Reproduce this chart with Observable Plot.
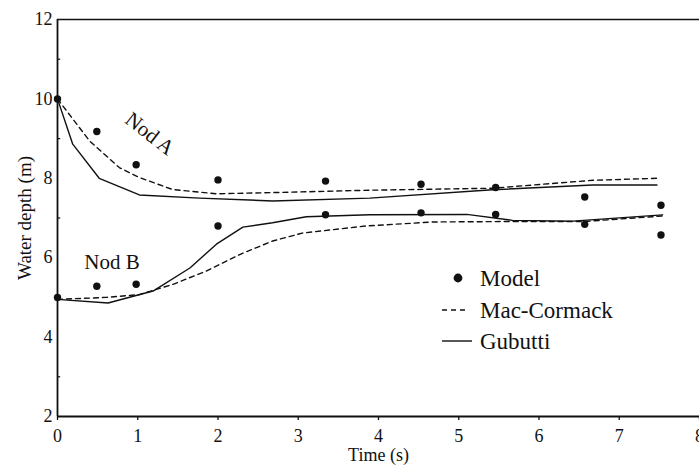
<!DOCTYPE html>
<html>
<head>
<meta charset="utf-8">
<script src="https://cdn.jsdelivr.net/npm/d3@7"></script>
<script src="https://cdn.jsdelivr.net/npm/@observablehq/plot@0.6"></script>
<style>
  html, body { margin: 0; padding: 0; background: #fff; overflow: hidden; }
  #wrap { position: relative; width: 699px; height: 469px; }
  #wrap svg text { font-family: "Liberation Serif", "Times New Roman", Times, "DejaVu Serif", serif !important; }
  #legend { position: absolute; left: 0; top: 0; pointer-events: none; }
</style>
</head>
<body>
<div id="wrap"></div>
<script>
// ---- data ----
const modelT = [0, 0.49, 0.98, 2.0, 3.34, 4.53, 5.46, 6.57, 7.52];
const modelA = [10.0, 9.18, 8.34, 7.96, 7.93, 7.85, 7.77, 7.53, 7.32];
const modelB = [5.0, 5.28, 5.33, 6.80, 7.08, 7.13, 7.09, 6.84, 6.57];

const macT_A = [0, 0.40, 0.77, 1.02, 1.43, 1.98, 2.68, 3.89, 5.42, 6.67, 7.47];
const macA   = [10.0, 8.94, 8.27, 8.02, 7.72, 7.61, 7.64, 7.70, 7.75, 7.95, 8.0];
const gubT_A = [0, 0.19, 0.52, 1.02, 1.77, 2.68, 3.89, 5.42, 6.67, 7.47];
const gubA   = [10.0, 8.86, 8.0, 7.58, 7.50, 7.43, 7.50, 7.71, 7.83, 7.83];

const macT_B = [0, 0.61, 1.02, 1.44, 1.85, 2.27, 2.68, 3.05, 3.85, 4.68, 5.51, 6.55, 7.54];
const macB   = [4.95, 5.0, 5.07, 5.33, 5.66, 6.08, 6.42, 6.62, 6.80, 6.90, 6.91, 6.91, 7.05];
const gubT_B = [0, 0.63, 1.19, 1.65, 1.98, 2.31, 2.68, 3.10, 3.89, 5.10, 5.67, 6.42, 7.54];
const gubB   = [4.95, 4.86, 5.16, 5.74, 6.34, 6.77, 6.88, 7.03, 7.08, 7.09, 6.94, 6.92, 7.08];

const xTicks = [0, 1, 2, 3, 4, 5, 6, 7, 8];
const yTicks = [2, 4, 6, 8, 10, 12];
const yMinor = [3, 5, 7, 9, 11];
const xLabel = "Time (s)";
const yLabel = "Water depth (m)";
const seriesNames = ["Model", "Mac-Cormack", "Gubutti"];
const nodeLabels = [
  {text: "Nod A", t: 1.15, h: 9.12, angle: 38},
  {text: "Nod B", t: 0.68, h: 5.89, angle: 0}
];

// ---- tables ----
const pts = modelT.map((t, i) => ({t, h: modelA[i]})).concat(modelT.map((t, i) => ({t, h: modelB[i]})));
const mk = (T, H) => T.map((t, i) => ({t, h: H[i]}));
const lineStyle = {x: "t", y: "h", stroke: "#111", strokeWidth: 1.4, curve: "linear"};

const font = '"Liberation Serif", "Times New Roman", Times, "DejaVu Serif", serif';

const chart = Plot.plot({
  width: 699,
  height: 469,
  marginLeft: 57,
  marginRight: 0,
  marginTop: 19,
  marginBottom: 53,
  style: {fontFamily: font, fontSize: "18px", color: "#111", background: "#fff", overflow: "visible"},
  x: {domain: [0, 8]},
  y: {domain: [2, 12]},
  marks: [
    Plot.axisX({ticks: xTicks, tickSize: 4, tickPadding: 9, tickFormat: d => String(d), label: null, fontSize: 18, strokeWidth: 1.3}),
    Plot.axisY({ticks: yTicks, tickSize: 0, tickPadding: 5, tickFormat: d => String(d), label: null, fontSize: 18}),
    Plot.ruleY(yMinor, {x1: 0, x2: 0.04, stroke: "#111", strokeWidth: 1.2}),
    Plot.ruleX([0], {stroke: "#111", strokeWidth: 1.8}),
    Plot.ruleY([2], {stroke: "#111", strokeWidth: 1.8}),
    Plot.ruleY([12], {stroke: "#111", strokeWidth: 1.6}),
    Plot.line(mk(macT_A, macA), {...lineStyle, strokeDasharray: "5,4"}),
    Plot.line(mk(macT_B, macB), {...lineStyle, strokeDasharray: "5,4"}),
    Plot.line(mk(gubT_A, gubA), lineStyle),
    Plot.line(mk(gubT_B, gubB), lineStyle),
    Plot.dot(pts, {x: "t", y: "h", r: 3.7, fill: "#111", stroke: "none"}),
    Plot.text(nodeLabels, {x: "t", y: "h", text: "text", rotate: "angle", fontSize: 21, fill: "#111", textAnchor: "middle", lineAnchor: "middle"}),
    Plot.text([xLabel], {frameAnchor: "bottom", dy: 39, fontSize: 18, fill: "#111", lineAnchor: "middle", textAnchor: "middle"}),
    Plot.text([yLabel], {frameAnchor: "left", dx: -33, rotate: -90, fontSize: 19, fill: "#111", lineAnchor: "middle", textAnchor: "middle"})
  ]
});

const wrap = document.getElementById("wrap");
wrap.appendChild(chart);

// ---- legend overlay ----
const ns = "http://www.w3.org/2000/svg";
const lg = document.createElementNS(ns, "svg");
lg.setAttribute("id", "legend");
lg.setAttribute("width", 699);
lg.setAttribute("height", 469);
const rows = [
  {name: seriesNames[0], kind: "dot", y: 278},
  {name: seriesNames[1], kind: "dash", y: 310},
  {name: seriesNames[2], kind: "solid", y: 341}
];
rows.forEach(r => {
  if (r.kind === "dot") {
    const c = document.createElementNS(ns, "circle");
    c.setAttribute("cx", 458); c.setAttribute("cy", r.y); c.setAttribute("r", 4.4);
    c.setAttribute("fill", "#111");
    lg.appendChild(c);
  } else {
    const l = document.createElementNS(ns, "line");
    l.setAttribute("x1", 442); l.setAttribute("x2", r.kind === "dash" ? 467 : 472);
    l.setAttribute("y1", r.y); l.setAttribute("y2", r.y);
    l.setAttribute("stroke", "#111"); l.setAttribute("stroke-width", 1.4);
    if (r.kind === "dash") l.setAttribute("stroke-dasharray", "5,4");
    lg.appendChild(l);
  }
  const t = document.createElementNS(ns, "text");
  t.setAttribute("x", 480); t.setAttribute("y", r.y);
  t.setAttribute("dy", "0.35em");
  t.setAttribute("font-size", 23);
  t.setAttribute("fill", "#111");
  t.textContent = r.name;
  lg.appendChild(t);
});
wrap.appendChild(lg);
</script>
</body>
</html>
